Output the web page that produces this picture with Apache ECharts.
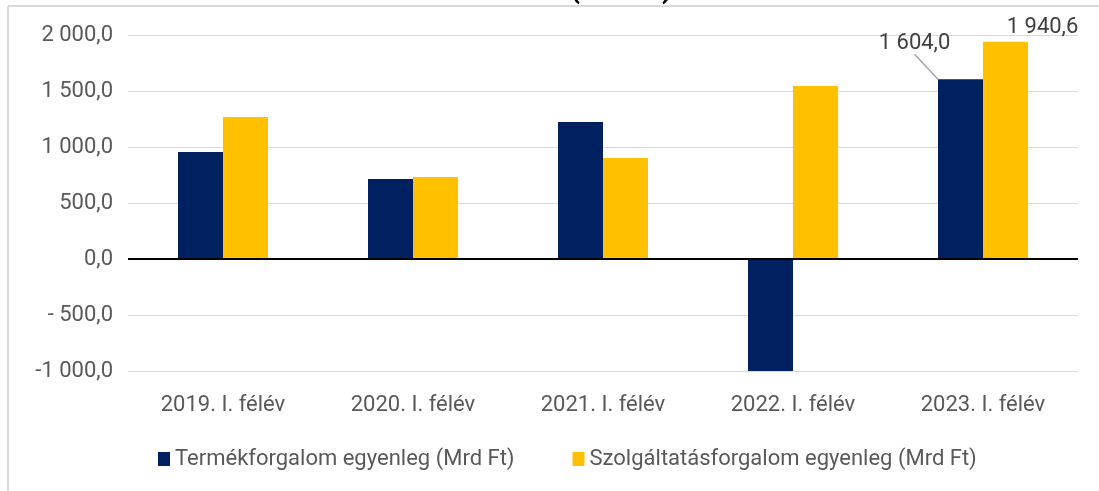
<!DOCTYPE html>
<html>
<head>
<meta charset="utf-8">
<script src="https://cdn.jsdelivr.net/npm/echarts@6/dist/echarts.min.js"></script>
<style>
  html, body { margin: 0; padding: 0; background: #fff; }
  #main { width: 1099px; height: 491px; }
</style>
</head>
<body>
<div id="main"></div>
<script>
// adatok
var categories = ["2019. I. félév", "2020. I. félév", "2021. I. félév", "2022. I. félév", "2023. I. félév"];
var termekValues = [955, 714, 1223, -1200, 1604.0];
var szolgValues = [1268, 732, 902, 1545, 1940.6];
var seriesNames = ["Termékforgalom egyenleg (Mrd Ft)", "Szolgáltatásforgalom egyenleg (Mrd Ft)"];
var labelledIndex = 4; // csak a 2023-as oszlopokon van felirat

// magyar számformátum: "1 604,0", "- 500,0", "-1 000,0"
function huNum(v) {
  var neg = v < 0;
  var s = Math.abs(v).toFixed(1).split(".");
  var intPart = s[0].replace(/\B(?=(\d{3})+(?!\d))/g, " ");
  var out = intPart + "," + s[1];
  if (neg) {
    out = (Math.abs(v) < 1000 ? "- " : "-") + out;
  }
  return out;
}

function withLabel(arr, labelOpt) {
  return arr.map(function (v, i) {
    if (i === labelledIndex) {
      return { value: v, label: labelOpt };
    }
    return v;
  });
}

var font = "Roboto";
var myChart = echarts.init(document.getElementById("main"));
var option = {
  animation: false,
  color: ["#002060", "#FFC000"],
  textStyle: { fontFamily: font },
  title: {
    text: "(Mrd Ft)",
    left: 616,
    textAlign: "center",
    top: -28,
    textStyle: { fontFamily: font, fontSize: 28, fontWeight: "bold", color: "#000" }
  },
  graphic: [
    // keret (szürke vonalak)
    { type: "line", shape: { x1: 8, y1: 6, x2: 8, y2: 491 }, style: { stroke: "#d9d9d9", lineWidth: 2 } },
    { type: "line", shape: { x1: 8, y1: 6, x2: 1099, y2: 6 }, style: { stroke: "#d9d9d9", lineWidth: 2 } }
  ],
  legend: {
    data: seriesNames,
    top: 443,
    left: 153,
    itemWidth: 12,
    itemHeight: 14,
    itemGap: 58,
    icon: "rect",
    textStyle: { fontFamily: font, fontSize: 22, color: "#595959" }
  },
  grid: { left: 128, right: 21, top: 35, bottom: 120 },
  xAxis: {
    type: "category",
    data: categories,
    axisLine: { show: false, onZero: false },
    axisTick: { show: false },
    axisLabel: { margin: 23, fontFamily: font, fontSize: 22, color: "#595959" }
  },
  yAxis: {
    type: "value",
    min: -1000,
    max: 2000,
    interval: 500,
    axisLine: { show: false },
    axisTick: { show: false },
    splitLine: { lineStyle: { color: "#d9d9d9", width: 1 } },
    axisLabel: {
      margin: 15,
      fontFamily: font,
      fontSize: 22,
      color: "#595959",
      formatter: function (v) { return huNum(v); }
    }
  },
  series: [
    {
      name: seriesNames[0],
      type: "bar",
      barWidth: 45,
      barGap: "0%",
      clip: true,
      data: withLabel(termekValues, {
        show: true,
        position: "top",
        fontFamily: font,
        fontSize: 22,
        color: "#404040",
        formatter: function (p) { return huNum(p.value); }
      }),
      labelLayout: { dx: -46, dy: -20 },
      labelLine: { show: true, lineStyle: { color: "#a6a6a6", width: 1.5 } },
      markLine: {
        silent: true,
        symbol: "none",
        label: { show: false },
        lineStyle: { color: "#000", width: 2, type: "solid" },
        data: [{ yAxis: 0 }]
      }
    },
    {
      name: seriesNames[1],
      type: "bar",
      barWidth: 45,
      barGap: "0%",
      clip: true,
      data: withLabel(szolgValues, {
        show: true,
        position: "top",
        distance: 1,
        fontFamily: font,
        fontSize: 22,
        color: "#404040",
        formatter: function (p) { return huNum(p.value); }
      }),
      labelLayout: { dx: 37, dy: -2 },
      labelLine: { show: false }
    }
  ]
};
myChart.setOption(option);
window.onresize = myChart.resize;
</script>
</body>
</html>
